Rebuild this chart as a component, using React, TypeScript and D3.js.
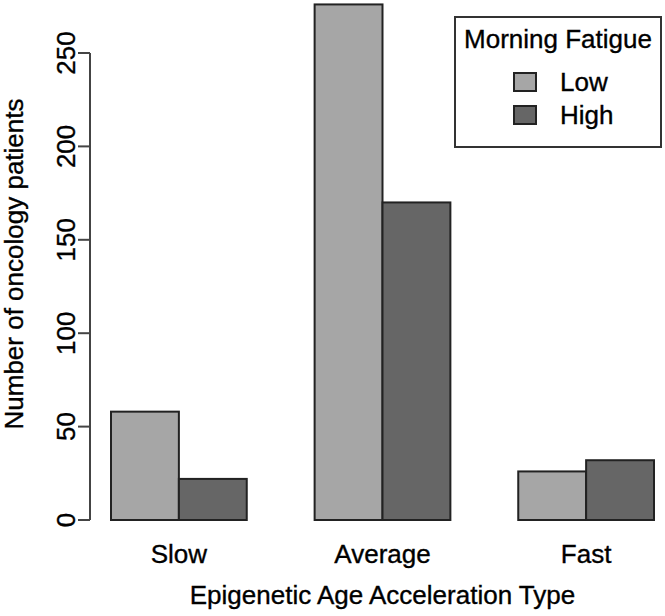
import React, { useRef, useEffect } from 'react';
import * as d3 from 'd3';

const CATEGORIES = ['Slow', 'Average', 'Fast'];
const SERIES = ['Low', 'High'];
const LOW_VALUES = [58, 276, 26];
const HIGH_VALUES = [22, 170, 32];
const Y_TICKS = [0, 50, 100, 150, 200, 250];
const COLORS = ['#a6a6a6', '#666666'];

const FONT = '"Liberation Sans", Arial, Helvetica, sans-serif';

const App: React.FC = () => {
    const svgRef = useRef<SVGSVGElement | null>(null);

    useEffect(() => {
        if (!svgRef.current) return;
        const width = 665, height = 616;
        const svg = d3.select(svgRef.current);
        svg.attr('width', width).attr('height', height);
        svg.selectAll('*').remove();

        svg.append('rect').attr('width', width).attr('height', height).attr('fill', 'white');

        const x0 = d3.scaleBand<string>().domain(CATEGORIES).range([111, 654]).paddingInner(1 / 3).paddingOuter(0);
        const x1 = d3.scaleBand<string>().domain(SERIES).range([0, x0.bandwidth()]).padding(0);
        const y = d3.scaleLinear().domain([0, 250]).range([520, 53]);

        const rows = CATEGORIES.map((c, i) => ({ cat: c, values: [LOW_VALUES[i], HIGH_VALUES[i]] }));

        // bars
        const groups = svg.append('g').selectAll('g')
            .data(rows)
            .join('g')
            .attr('transform', d => `translate(${x0(d.cat)},0)`);

        groups.selectAll('rect')
            .data(d => d.values.map((v, i) => ({ key: SERIES[i], v, i })))
            .join('rect')
            .attr('x', d => x1(d.key)!)
            .attr('y', d => y(d.v))
            .attr('width', x1.bandwidth())
            .attr('height', d => y(0) - y(d.v))
            .attr('fill', d => COLORS[d.i])
            .attr('stroke', '#222')
            .attr('stroke-width', 2);

        // text helper, slightly heavier to match the reference glyphs
        const style = (sel: any) => sel
            .attr('font-family', FONT)
            .attr('font-size', 26)
            .attr('fill', '#000')
            .attr('stroke', '#000')
            .attr('stroke-width', 0.35);

        // y axis
        const axisColor = '#444';
        const ya = svg.append('g');
        ya.append('line')
            .attr('x1', 90).attr('x2', 90)
            .attr('y1', y(0)).attr('y2', y(250))
            .attr('stroke', axisColor).attr('stroke-width', 2);
        ya.selectAll('line.tick')
            .data(Y_TICKS)
            .join('line')
            .attr('class', 'tick')
            .attr('x1', 78).attr('x2', 90)
            .attr('y1', d => y(d)).attr('y2', d => y(d))
            .attr('stroke', axisColor).attr('stroke-width', 2);
        ya.selectAll('text')
            .data(Y_TICKS)
            .join('text')
            .attr('transform', d => `translate(75,${y(d)}) rotate(-90)`)
            .attr('text-anchor', 'middle')
            .call(style)
            .text(d => d);

        // y title
        svg.append('text')
            .attr('transform', `translate(23,264) rotate(-90)`)
            .attr('text-anchor', 'middle')
            .call(style)
            .text('Number of oncology patients');

        // x labels
        svg.append('g').selectAll('text')
            .data(CATEGORIES)
            .join('text')
            .attr('x', d => x0(d)! + x0.bandwidth() / 2)
            .attr('y', 563)
            .attr('text-anchor', 'middle')
            .call(style)
            .text(d => d);

        svg.append('text')
            .attr('x', (x0('Slow')! + x0('Fast')! + x0.bandwidth()) / 2)
            .attr('y', 604)
            .attr('text-anchor', 'middle')
            .call(style)
            .text('Epigenetic Age Acceleration Type');

        // legend
        const lg = svg.append('g');
        lg.append('rect')
            .attr('x', 455).attr('y', 17)
            .attr('width', 206).attr('height', 130)
            .attr('fill', 'white')
            .attr('stroke', '#333').attr('stroke-width', 2);
        lg.append('text')
            .attr('x', 558).attr('y', 48)
            .attr('text-anchor', 'middle')
            .call(style)
            .text('Morning Fatigue');
        const items = lg.selectAll('g.item')
            .data(SERIES)
            .join('g')
            .attr('class', 'item')
            .attr('transform', (_, i) => `translate(0,${i * 33})`);
        items.append('rect')
            .attr('x', 514).attr('y', 73)
            .attr('width', 22).attr('height', 18)
            .attr('fill', (_, i) => COLORS[i])
            .attr('stroke', '#222').attr('stroke-width', 2);
        items.append('text')
            .attr('x', 560).attr('y', 91)
            .call(style)
            .text(d => d);
    }, []);

    return (
        <div style={{ position: 'absolute', left: 0, top: 0 }}>
            <svg ref={svgRef} style={{ display: 'block' }}></svg>
        </div>
    );
};

export default App;
